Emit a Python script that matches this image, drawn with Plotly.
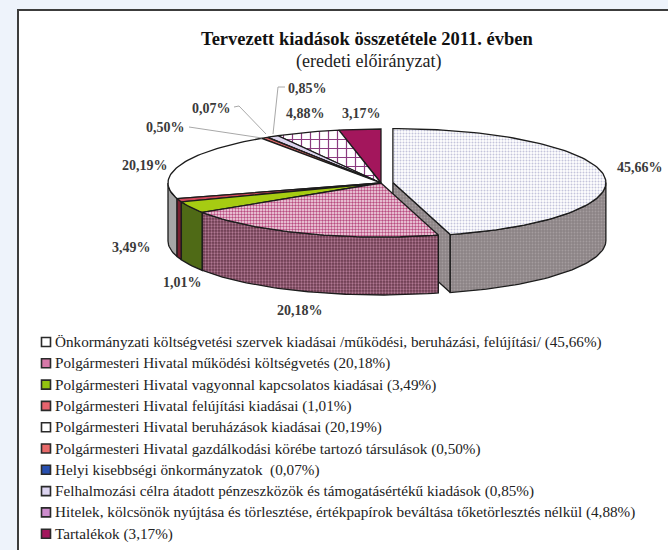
import numpy as np
import plotly.graph_objects as go

# ---------------- data ----------------
categories = [
    "Önkormányzati költségvetési szervek kiadásai /működési, beruházási, felújítási/",
    "Polgármesteri Hivatal működési költségvetés",
    "Polgármesteri Hivatal vagyonnal kapcsolatos kiadásai",
    "Polgármesteri Hivatal felújítási kiadásai",
    "Polgármesteri Hivatal beruházások kiadásai",
    "Polgármesteri Hivatal gazdálkodási körébe tartozó társulások",
    "Helyi kisebbségi önkormányzatok ",
    "Felhalmozási célra átadott pénzeszközök és támogatásértékű kiadások",
    "Hitelek, kölcsönök nyújtása és törlesztése, értékpapírok beváltása tőketörlesztés nélkül",
    "Tartalékok",
]
values = [45.66, 20.18, 3.49, 1.01, 20.19, 0.50, 0.07, 0.85, 4.88, 3.17]

title_text = "Tervezett kiadások összetétele 2011. évben"
subtitle_text = "(eredeti előirányzat)"

# ---------------- styles / layout ----------------
top_colors = ["#ffffff", "#f3d9e6", "#a6cc12", "#d24a5c", "#ffffff",
              "#e06868", "#2a48a8", "#ddd5ef", "#ffffff", "#a3165c"]
top_patterns = [
    dict(shape=".", bgcolor="#ffffff", fgcolor="#c4c4dc", size=3, solidity=0.35, fillmode="replace"),
    dict(shape=".", bgcolor="#f6e0ea", fgcolor="#b84c80", size=3, solidity=0.5, fillmode="replace"),
    None, None, None, None, None, None,
    dict(shape="+", bgcolor="#ffffff", fgcolor="#8c3c80", size=9, solidity=0.25, fillmode="replace"),
    None,
]
side_colors = ["#8c8486", "#6c3a50", "#4f6a16", "#7a2030", "#a6a6a6",
               "#803030", "#18306a", "#8a84a0", "#6a3a60", "#600c38"]
side_patterns = [
    dict(shape=".", bgcolor="#8c8486", fgcolor="#a49c9e", size=3, solidity=0.3, fillmode="replace"),
    dict(shape=".", bgcolor="#6a3a4e", fgcolor="#b07892", size=3, solidity=0.45, fillmode="replace"),
    None, None, None, None, None, None, None, None,
]
legend_colors = ["#ffffff", "#d678a8", "#94c410", "#e8646e", "#ffffff",
                 "#e86a6a", "#2850b0", "#dcd4f0", "#cc8ccc", "#a3165c"]
explode = [12, 0, 0, 0, 0, 0, 0, 0, 0, 0]

cx, cy, rx, ry, depth = 381.0, 183.0, 213.0, 54.0, 58.0

label_pos = [(640, 167), (300, 310), (131, 247), (182, 282), (145, 165),
             (165, 127), (211, 108), (307, 88), (305, 113), (361, 113)]
leader_paths = {
    5: [(189, 127), (262, 138)],
    6: [(234, 107), (239, 106), (266, 134)],
    7: [(285, 87), (278, 87), (273, 134)],
}

W, H = 668, 550

def fmt_pct(v):
    return f"{v:.2f}".replace(".", ",") + "%"

total = sum(values)
bounds = np.concatenate([[0.0], np.cumsum(values) / total * 360.0])

def ell(theta, ox, oy, dz=0.0):
    t = np.radians(theta)
    return ox + cx + rx * np.sin(t), oy + cy - ry * np.cos(t) + dz

def arc(a, b, ox, oy, dz=0.0):
    n = max(2, int(abs(b - a) / 1.5) + 2)
    th = np.linspace(a, b, n)
    x, y = ell(th, ox, oy, dz)
    return list(x), list(y)

fig = go.Figure()

# frame
fig.add_shape(type="rect", x0=18, y0=10, x1=W + 30, y1=H + 30,
              line=dict(color="#3c3c3c", width=2), fillcolor="#ffffff", layer="below")

def add_poly(xs, ys, color, pattern, lw=1.3):
    kw = dict(x=xs, y=ys, mode="lines", fill="toself", fillcolor=color,
              line=dict(color="#1c1c1c", width=lw), hoverinfo="skip", showlegend=False)
    if pattern is not None:
        kw["fillpattern"] = pattern
    fig.add_trace(go.Scatter(**kw))

mids = [(bounds[i] + bounds[i + 1]) / 2 for i in range(len(values))]
order = sorted(range(len(values)), key=lambda i: -np.cos(np.radians(mids[i])))

for i in order:
    a, b = bounds[i], bounds[i + 1]
    m = np.radians(mids[i])
    ox = explode[i] * np.sin(m)
    oy = -explode[i] * (ry / rx) * np.cos(m)
    ax_, ay_ = cx + ox, cy + oy
    if explode[i] > 0:
        for th, sgn in ((b, 1), (a, -1)):
            if sgn * np.sin(np.radians(th)) > 0.05:
                px, py = ell(th, ox, oy)
                xs = [ax_, px, px, ax_, ax_]
                ys = [ay_, py, py + depth, ay_ + depth, ay_]
                add_poly(xs, ys, side_colors[i], side_patterns[i])
    wa, wb = max(a, 90.0), min(b, 270.0)
    if wa < wb:
        tx, ty = arc(wa, wb, ox, oy)
        bx, by = arc(wb, wa, ox, oy, depth)
        add_poly(tx + bx + [tx[0]], ty + by + [ty[0]], side_colors[i], side_patterns[i])
    tx, ty = arc(a, b, ox, oy)
    add_poly([ax_] + tx + [ax_], [ay_] + ty + [ay_], top_colors[i], top_patterns[i])

for k, pts in leader_paths.items():
    path = "M " + " L ".join(f"{x},{y}" for x, y in pts)
    fig.add_shape(type="path", path=path, line=dict(color="#a8a8a8", width=1))

annotations = []
for i, (lx, ly) in enumerate(label_pos):
    annotations.append(dict(x=lx, y=ly, text=f"<b>{fmt_pct(values[i])}</b>", showarrow=False,
                            xanchor="center", yanchor="middle",
                            font=dict(family="Liberation Serif", size=14, color="#3a3a3a")))

annotations.append(dict(x=367, y=39, text=f"<b>{title_text}</b>", showarrow=False,
                        xanchor="center", yanchor="middle",
                        font=dict(family="Liberation Serif", size=18.5, color="#111111")))
annotations.append(dict(x=368, y=61, text=subtitle_text, showarrow=False,
                        xanchor="center", yanchor="middle",
                        font=dict(family="Liberation Serif", size=18, color="#222222")))

leg_x, leg_y0, leg_dy = 46, 342, 21.3
leg_y = [leg_y0 + leg_dy * k for k in range(len(categories))]
fig.add_trace(go.Scatter(
    x=[leg_x] * len(categories), y=leg_y, mode="markers",
    marker=dict(symbol="square", size=9, color=legend_colors,
                line=dict(color="#2a2a2a", width=1.6)),
    hoverinfo="skip", showlegend=False))
for k, name in enumerate(categories):
    annotations.append(dict(x=leg_x + 7, y=leg_y[k], text=f"{name} ({fmt_pct(values[k])})",
                            showarrow=False, xanchor="left", yanchor="middle",
                            font=dict(family="Liberation Serif", size=15.2, color="#222222")))

fig.update_layout(
    width=W, height=H,
    margin=dict(l=0, r=0, t=0, b=0),
    paper_bgcolor="#eef3fb", plot_bgcolor="rgba(0,0,0,0)",
    xaxis=dict(range=[0, W], visible=False, fixedrange=True),
    yaxis=dict(range=[H, 0], visible=False, fixedrange=True),
    annotations=annotations,
    showlegend=False,
)

fig.write_html("out.html", config={"displayModeBar": False},
               post_script="document.body.style.margin='0';")
